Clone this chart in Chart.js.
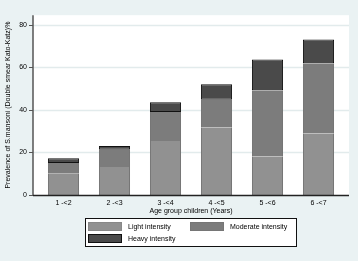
<!DOCTYPE html>
<html>
<head>
<meta charset="utf-8">
<script src="https://cdn.jsdelivr.net/npm/chart.js@4"></script>
<style>
  html, body { margin: 0; padding: 0; background: #eaf2f3; }
  #wrap { width: 358px; height: 261px; }
</style>
</head>
<body>
<div id="wrap"><canvas id="chart" width="358" height="261"></canvas></div>
<script>
// categorias de idade
const ageGroups = ['1 -<2', '2 -<3', '3 -<4', '4 -<5', '5 -<6', '6 -<7'];

// prevalência por intensidade (segmentos empilhados, %)
const lightIntensity = [10, 13.1, 25.3, 31.8, 18.2, 29];
const moderateIntensity = [5, 8.1, 13.7, 12.9, 31, 32.8];
const heavyIntensity = [2.3, 1.8, 4.5, 7.3, 14.4, 11.2];

const yTickValues = [0, 20, 40, 60, 80];

const FONT = 'Liberation Sans, Arial, sans-serif';
const TEXT = '#000000';

// fundo branco da área do gráfico, grade e eixos (estilo Stata)
const plotFrame = {
    id: 'plotFrame',
    beforeDatasetsDraw(chart) {
        const { ctx, chartArea: a, scales: { y } } = chart;
        const left = a.left - 5, right = a.right + 5;
        ctx.save();
        ctx.fillStyle = '#ffffff';
        ctx.fillRect(left, a.top, right - left, a.bottom - a.top);

        ctx.strokeStyle = '#e2ebec';
        ctx.lineWidth = 1.5;
        y.ticks.forEach(t => {
            if (t.value === 0) return;
            const py = Math.round(y.getPixelForValue(t.value)) + 0.5;
            ctx.beginPath();
            ctx.moveTo(left, py);
            ctx.lineTo(right, py);
            ctx.stroke();
        });

        // eixo y e marcas
        ctx.strokeStyle = '#555555';
        ctx.lineWidth = 1.5;
        ctx.beginPath();
        ctx.moveTo(left, a.top);
        ctx.lineTo(left, a.bottom);
        ctx.stroke();
        ctx.lineWidth = 1;
        y.ticks.forEach(t => {
            const py = Math.round(y.getPixelForValue(t.value)) + 0.5;
            ctx.beginPath();
            ctx.moveTo(left - 4, py);
            ctx.lineTo(left, py);
            ctx.stroke();
        });
        ctx.restore();
    },
    afterDatasetsDraw(chart) {
        const { ctx, chartArea: a } = chart;
        ctx.save();
        ctx.strokeStyle = '#222222';
        ctx.lineWidth = 1.5;
        ctx.beginPath();
        ctx.moveTo(a.left - 5, a.bottom + 0.5);
        ctx.lineTo(a.right + 5, a.bottom + 0.5);
        ctx.stroke();
        ctx.restore();
    }
};

// legenda em caixa, duas colunas
const boxLegend = {
    id: 'boxLegend',
    afterDraw(chart) {
        const { ctx } = chart;
        const ds = chart.data.datasets;
        const boxX = 85, boxY = 218, boxW = 211, boxH = 28;
        ctx.save();
        ctx.fillStyle = '#ffffff';
        ctx.fillRect(boxX, boxY, boxW, boxH);
        ctx.strokeStyle = '#111111';
        ctx.lineWidth = 1;
        ctx.strokeRect(boxX + 0.5, boxY + 0.5, boxW, boxH);

        const slots = [
            { x: 88, y: 222 },
            { x: 190, y: 222 },
            { x: 88, y: 234 }
        ];
        ctx.font = '7px ' + FONT;
        ctx.textBaseline = 'middle';
        ds.forEach((d, i) => {
            const s = slots[i];
            ctx.fillStyle = d.backgroundColor;
            ctx.fillRect(s.x, s.y, 34, 9);
            ctx.strokeStyle = d.legendBorder;
            ctx.strokeRect(s.x + 0.5, s.y + 0.5, 33, 8);
            ctx.fillStyle = TEXT;
            ctx.fillText(d.label, s.x + 40, s.y + 5);
        });
        ctx.restore();
    }
};

const ctxPrevalencia = document.getElementById('chart').getContext('2d');

new Chart(ctxPrevalencia, {
    type: 'bar',
    data: {
        labels: ageGroups,
        datasets: [
            {
                label: 'Light intensity',
                data: lightIntensity,
                backgroundColor: '#919191',
                borderColor: '#6e6e6e',
                borderWidth: { left: 1, right: 1, top: 0, bottom: 0 },
                borderSkipped: false,
                inflateAmount: 0,
                legendBorder: '#888888'
            },
            {
                label: 'Moderate intensity',
                data: moderateIntensity,
                backgroundColor: '#7c7c7c',
                borderColor: '#6e6e6e',
                borderWidth: { left: 1, right: 1, top: 0, bottom: 0 },
                borderSkipped: false,
                inflateAmount: 0,
                legendBorder: '#767676'
            },
            {
                label: 'Heavy intensity',
                data: heavyIntensity,
                backgroundColor: '#4a4a4a',
                borderColor: '#111111',
                borderWidth: 1,
                borderSkipped: false,
                inflateAmount: 0,
                legendBorder: '#111111'
            }
        ]
    },
    options: {
        responsive: false,
        animation: false,
        layout: { padding: { top: 9, right: 14, bottom: 46, left: 0 } },
        plugins: {
            legend: { display: false },
            tooltip: { enabled: false }
        },
        datasets: {
            bar: { categoryPercentage: 1, barPercentage: 0.61 }
        },
        scales: {
            x: {
                stacked: true,
                grid: { display: false, drawTicks: false },
                border: { display: false },
                ticks: {
                    color: TEXT,
                    padding: 4,
                    maxRotation: 0,
                    font: { size: 7, family: FONT }
                },
                title: {
                    display: true,
                    text: 'Age group children (Years)',
                    color: TEXT,
                    padding: 0,
                    font: { size: 7, family: FONT }
                },
                afterFit: (s) => { s.height = 20; }
            },
            y: {
                stacked: true,
                min: 0,
                max: 84.4,
                grid: { display: false, drawTicks: false },
                border: { display: false },
                afterBuildTicks: (s) => {
                    s.ticks = yTickValues.map(v => ({ value: v }));
                },
                ticks: {
                    color: TEXT,
                    padding: 11,
                    font: { size: 7, family: FONT }
                },
                title: {
                    display: true,
                    text: 'Prevalence of S.mansoni (Double smear Kato-Katz)%',
                    color: TEXT,
                    padding: { top: 4, bottom: 0 },
                    font: { size: 7, family: FONT }
                },
                afterFit: (s) => { s.width = 38; }
            }
        }
    },
    plugins: [plotFrame, boxLegend]
});
</script>
</body>
</html>
